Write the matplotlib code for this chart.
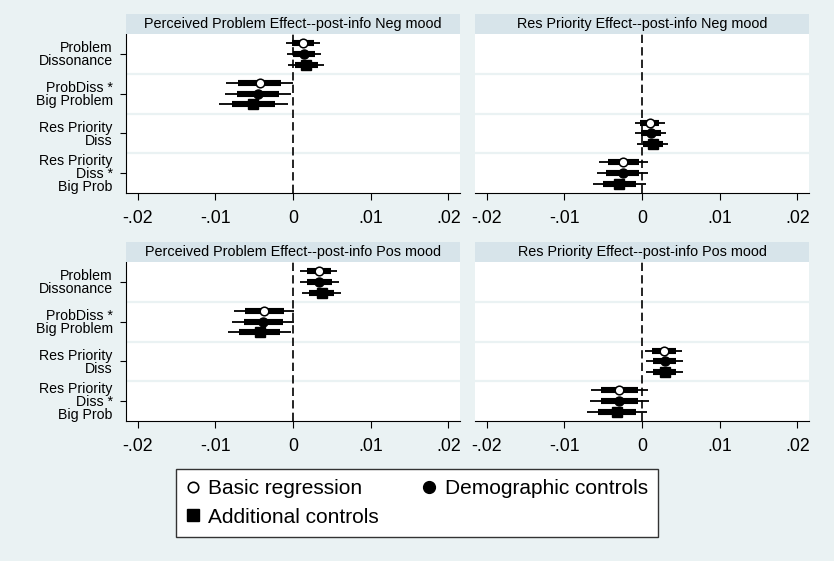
import matplotlib.pyplot as plt
from matplotlib.lines import Line2D

plt.rcParams['font.family'] = ['Liberation Sans', 'DejaVu Sans']

# coefficient labels (top to bottom)
categories = ["Problem\nDissonance", "ProbDiss *\nBig Problem",
              "Res Priority\nDiss", "Res Priority\nDiss *\nBig Prob"]
series = ["Basic regression", "Demographic controls", "Additional controls"]
titles = ["Perceived Problem Effect--post-info Neg mood",
          "Res Priority Effect--post-info Neg mood",
          "Perceived Problem Effect--post-info Pos mood",
          "Res Priority Effect--post-info Pos mood"]

# estimates, one row per model; columns = the two coefficients in the panel
neg_prob_coef = [[0.0013, -0.0043], [0.0014, -0.0045], [0.0017, -0.0051]]
neg_prob_se = [[0.00085, 0.00167], [0.00085, 0.00167], [0.00089, 0.00171]]
neg_res_coef = [[0.0010, -0.0024], [0.0011, -0.0025], [0.0014, -0.0029]]
neg_res_se = [[0.00074, 0.00124], [0.00078, 0.00128], [0.00078, 0.00132]]
pos_prob_coef = [[0.0033, -0.0037], [0.0034, -0.0038], [0.0037, -0.0043]]
pos_prob_se = [[0.00093, 0.00151], [0.00097, 0.00155], [0.00097, 0.00159]]
pos_res_coef = [[0.0028, -0.0029], [0.0029, -0.0029], [0.0029, -0.0032]]
pos_res_se = [[0.00093, 0.00144], [0.00093, 0.00148], [0.00092, 0.00151]]

prob_rows = [0, 1]
res_rows = [2, 3]

panels = [(neg_prob_coef, neg_prob_se, prob_rows),
          (neg_res_coef, neg_res_se, res_rows),
          (pos_prob_coef, pos_prob_se, prob_rows),
          (pos_res_coef, pos_res_se, res_rows)]

Z_THIN = 2.576   # 99% interval
Z_THICK = 1.645  # 90% interval

bg = '#EAF2F3'
strip = '#D7E4EA'
markers = [dict(marker='o', mfc='white', mec='black', ms=6.2, mew=1.1),
           dict(marker='o', mfc='black', mec='black', ms=6.5),
           dict(marker='s', mfc='black', mec='black', ms=7)]
offsets = [-0.27, 0, 0.27]

W, H = 834, 561
fig = plt.figure(figsize=(W / 100, H / 100), dpi=100, facecolor=bg)

# panel boxes in pixels: left, top of plot area, right, bottom
boxes = [(126, 34, 460, 193), (475, 34, 809, 193),
         (126, 262, 460, 421), (475, 262, 809, 421)]
strip_h = 20

for i, (coef, se, rows) in enumerate(panels):
    l, t, r, b = boxes[i]
    ax = fig.add_axes([l / W, 1 - b / H, (r - l) / W, (b - t) / H])
    ax.set_facecolor('white')
    sax = fig.add_axes([l / W, 1 - t / H, (r - l) / W, strip_h / H])
    sax.set_facecolor(strip)
    sax.set_xticks([]); sax.set_yticks([])
    for sp in sax.spines.values():
        sp.set_visible(False)
    sax.text(0.5, 0.5, titles[i], ha='center', va='center', fontsize=10.4,
             transform=sax.transAxes)

    for g in [1.5, 2.5, 3.5]:
        ax.axhline(g, color=bg, lw=1.6, zorder=1)
    ax.axvline(0, color='black', lw=1.2, ls=(0, (5, 2.5)), zorder=2)

    for s in range(3):
        for j, row in enumerate(rows):
            y = row + 1 + offsets[s]
            c, e = coef[s][j], se[s][j]
            ax.hlines(y, c - Z_THIN * e, c + Z_THIN * e, color='black',
                      lw=1.3, zorder=3)
            ax.hlines(y, c - Z_THICK * e, c + Z_THICK * e, color='black',
                      lw=4.4, zorder=3)
            ax.plot([c], [y], ls='none', zorder=4, **markers[s])

    ax.set_xlim(-0.0215, 0.0215)
    ax.set_ylim(4.5, 0.5)
    ax.set_xticks([-0.02, -0.01, 0, 0.01, 0.02])
    ax.set_xticklabels(['-.02', '-.01', '0', '.01', '.02'], fontsize=12.8)
    ax.tick_params(axis='x', direction='out', length=5, width=0.8, pad=7)
    for side in ['top', 'right']:
        ax.spines[side].set_visible(False)
    ax.spines['bottom'].set_linewidth(0.8)
    if i % 2 == 0:
        ax.set_yticks([1, 2, 3, 4])
        ax.set_yticklabels(categories, fontsize=10.2, linespacing=0.9,
                           multialignment='right')
        ax.tick_params(axis='y', direction='out', length=4.5, width=0.8, pad=5)
        ax.spines['left'].set_linewidth(0.8)
    else:
        ax.set_yticks([])
        ax.spines['left'].set_visible(False)

handles = [Line2D([], [], ls='none', marker='o', mfc='white', mec='black', ms=7.5, mew=1.2),
           Line2D([], [], ls='none', marker='s', mfc='black', mec='black', ms=8.5),
           Line2D([], [], ls='none', marker='o', mfc='black', mec='black', ms=8.5)]
labels = [series[0], series[2], series[1]]
leg = fig.legend(handles, labels, ncol=2, loc='center', bbox_to_anchor=(0.5, 0.1034),
                 fontsize=15, frameon=True, fancybox=False, edgecolor='#333333',
                 framealpha=1, handlelength=0.6, handletextpad=0.45, columnspacing=2.1,
                 labelspacing=0.45, borderpad=0.5, borderaxespad=0)
leg.get_frame().set_linewidth(1.0)

fig.savefig('out.png', dpi=100, facecolor=bg)
